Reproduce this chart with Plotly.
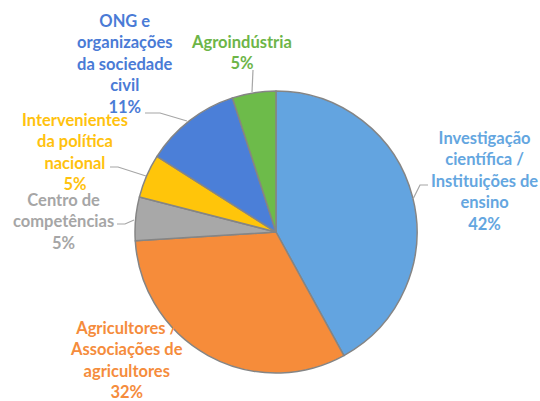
import plotly.graph_objects as go

categories = ["Investigação científica / Instituições de ensino",
              "Agricultores / Associações de agricultores",
              "Centro de competências",
              "Intervenientes da política nacional",
              "ONG e organizações da sociedade civil",
              "Agroindústria"]
values = [42, 32, 5, 5, 11, 5]
colors = ["#63A4E0", "#F68C3A", "#A8A8A8", "#FFC50A", "#4B7FD8", "#6DBB4A"]
label_text = ["Investigação<br>científica /<br>Instituições de<br>ensino<br>42%",
              "Agricultores /<br>Associações de<br>agricultores<br>32%",
              "Centro de<br>competências<br>5%",
              "Intervenientes<br>da política<br>nacional<br>5%",
              "ONG e<br>organizações<br>da sociedade<br>civil<br>11%",
              "Agroindústria<br>5%"]
text_colors = ["#64A6E0", "#F58C3C", "#A6A6A6", "#FFC20E", "#4A7BD6", "#6DB548"]
# label centre positions in pixels (x, y from top)
label_pos = [(484, 181), (126, 360), (63, 221), (75, 152), (125, 64), (241, 53)]
# leader lines (pixel polyline)
leaders = [
    [(428, 185), (420, 185), (413, 199)],
    [(117, 224), (125, 224), (134, 220)],
    [(110, 167), (118, 167), (146, 176)],
    [(145, 113), (160, 113), (187, 121)],
    [(253, 70), (252, 92)],
]

W, H = 540, 401
fig = go.Figure(go.Pie(
    labels=categories, values=values, sort=False, direction="clockwise",
    rotation=0, textinfo="none", hoverinfo="label+percent",
    marker=dict(colors=colors, line=dict(color="#858585", width=1.5)),
    domain=dict(x=[135 / W, 417 / W], y=[1 - 373 / H, 1 - 91 / H]),
    showlegend=False,
))

for txt, col, (px, py) in zip(label_text, text_colors, label_pos):
    fig.add_annotation(x=px / W, y=1 - py / H, xref="paper", yref="paper",
                       xanchor="center", yanchor="middle",
                       text=txt, showarrow=False, align="center",
                       font=dict(family="Lato", size=16.5, color=col, weight="bold"))

for pts in leaders:
    path = "M " + " L ".join(f"{x / W} {1 - y / H}" for x, y in pts)
    fig.add_shape(type="path", path=path, xref="paper", yref="paper",
                  line=dict(color="#A6A6A6", width=1.2))

fig.update_layout(width=W, height=H, margin=dict(l=0, r=0, t=0, b=0),
                  paper_bgcolor="white", plot_bgcolor="white")
fig.write_html("out.html")
